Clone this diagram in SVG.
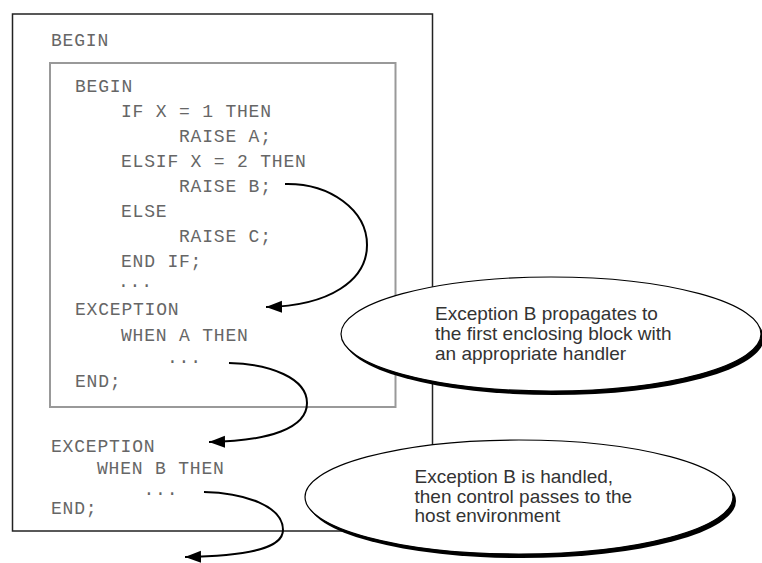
<svg xmlns="http://www.w3.org/2000/svg" width="762" height="563" viewBox="0 0 762 563">
  <style>
    .code { font-family: "Liberation Mono", "DejaVu Sans Mono", monospace; font-size: 18px; letter-spacing: 0.8px; fill: #666; }
    .note { font-family: "Liberation Sans", Arial, sans-serif; font-size: 19px; fill: #333; }
    .outer { fill: none; stroke: #222; stroke-width: 1.5; }
    .inner { fill: none; stroke: #999; stroke-width: 2; }
    .conn { fill: none; stroke: #000; stroke-width: 2; }
    .shadow { fill: #000; stroke: none; }
    .bubble { fill: #fff; stroke: #000; stroke-width: 1.2; }
  </style>
  <defs>
    <marker id="arrow" markerUnits="userSpaceOnUse" markerWidth="18" markerHeight="14" refX="16" refY="6" orient="auto">
      <path d="M0,0 L16,6 L0,12 Z" fill="#000"/>
    </marker>
  </defs>
  <rect width="762" height="563" fill="#fff"/>

  <g id="outer-block">
    <rect class="outer" x="12.5" y="14" width="420" height="517"/>
    <text class="code" x="51" y="46">BEGIN</text>
    <text class="code" x="51" y="452">EXCEPTION</text>
    <text class="code" x="97" y="474">WHEN B THEN</text>
    <text class="code" x="143.5" y="495">...</text>
    <text class="code" x="51" y="514">END;</text>
  </g>

  <g id="inner-block">
    <rect class="inner" x="50" y="63" width="345.5" height="344"/>
    <text class="code" x="75" y="92">BEGIN</text>
    <text class="code" x="121" y="117">IF X = 1 THEN</text>
    <text class="code" x="179" y="142">RAISE A;</text>
    <text class="code" x="121" y="167">ELSIF X = 2 THEN</text>
    <text class="code" x="179" y="192">RAISE B;</text>
    <text class="code" x="121" y="217">ELSE</text>
    <text class="code" x="179" y="242">RAISE C;</text>
    <text class="code" x="121" y="267">END IF;</text>
    <text class="code" x="118" y="287">...</text>
    <text class="code" x="75" y="315">EXCEPTION</text>
    <text class="code" x="121" y="341">WHEN A THEN</text>
    <text class="code" x="167" y="363">...</text>
    <text class="code" x="75" y="387">END;</text>
  </g>

  <g id="connectors">
    <path class="conn" d="M285,184 C330,183 367,210 367,245 C367,280 330,306 266,307" marker-end="url(#arrow)"/>
    <path class="conn" d="M229,363 C270,364 307,378 307,403 C307,428 270,441 209,442" marker-end="url(#arrow)"/>
    <path class="conn" d="M204,492 C245,493 283,506 283,530 C283,548 250,556 185,557" marker-end="url(#arrow)"/>
  </g>

  <g id="callout-propagates">
    <ellipse class="shadow" cx="554" cy="338" rx="210" ry="57"/>
    <ellipse class="bubble" cx="551" cy="334" rx="210" ry="57"/>
    <text class="note" x="435" y="320">Exception B propagates to</text>
    <text class="note" x="435" y="340">the first enclosing block with</text>
    <text class="note" x="435" y="360">an appropriate handler</text>
  </g>

  <g id="callout-handled">
    <ellipse class="shadow" cx="522" cy="501" rx="214" ry="57"/>
    <ellipse class="bubble" cx="519" cy="497" rx="214" ry="57"/>
    <text class="note" x="414.5" y="483">Exception B is handled,</text>
    <text class="note" x="414.5" y="503">then control passes to the</text>
    <text class="note" x="414.5" y="522">host environment</text>
  </g>
</svg>
